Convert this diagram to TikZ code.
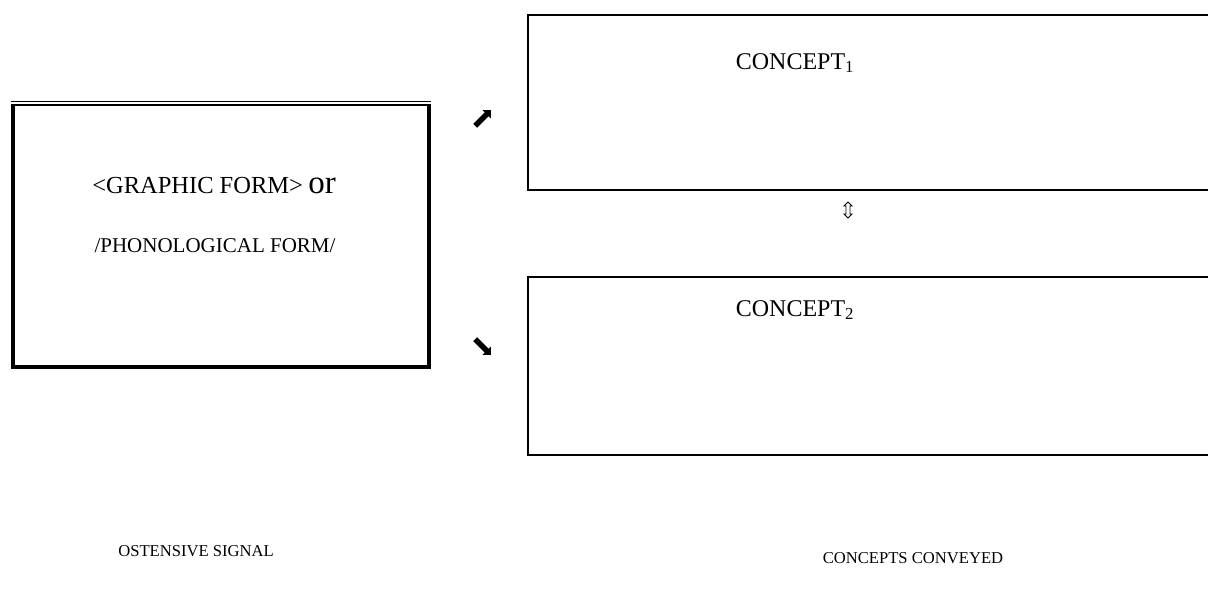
\documentclass[tikz,border=0pt]{standalone}
\usepackage{fontspec}
\setmainfont{Liberation Serif}
\usetikzlibrary{shapes.arrows}
\begin{document}
\begin{tikzpicture}
    [
    x=1pt,y=-1pt,
    txt/.style = {inner sep=0pt,font=\fontsize{21}{25}\selectfont},
    big/.style = {inner sep=0pt,font=\fontsize{24}{28}\selectfont},
    caption/.style = {inner sep=0pt,font=\fontsize{16.6}{19}\selectfont},
    pointer/.style = {single arrow,fill,black,inner sep=2.6pt,single arrow head extend=3pt,minimum height=22pt},
    twoway/.style = {double arrow,draw,black,line width=0.8pt,inner sep=1.6pt,double arrow head extend=2pt,minimum height=16pt,rotate=90}
    ]
\useasboundingbox (0,0) rectangle (1208,597);
% left box
\draw[line width=4pt] (13,104.5) |- (429,366.5) -- (429,104.5);
\draw[line width=2pt] (11,104.5) -- (431,104.5);
\draw[line width=1pt] (11,101.5) -- (431,101.5);
\node[txt] (form1) at (214,186) {{\fontsize{24.5}{28}\selectfont <GRAPHIC FORM>} {\fontsize{33}{36}\selectfont or}};
\node[txt] (form2) at (215,246) {/PHONOLOGICAL FORM/};
% right boxes, running off the page
\draw[line width=2pt] (1208,15) -| (528,190) -- (1208,190);
\draw[line width=2pt] (1208,277) -| (528,455) -- (1208,455);
\node[big] (c1) at (795,63) {CONCEPT\textsubscript{1}};
\node[big] (c2) at (795,310) {CONCEPT\textsubscript{2}};

\node[pointer,rotate=45] (up) at (482,119) {};
\node[pointer,rotate=-45] (down) at (482,346) {};
\node[twoway] (both) at (848,210) {};

\node[caption] (signal) at (196,551) {OSTENSIVE SIGNAL};
\node[caption] (conveyed) at (913,558) {CONCEPTS CONVEYED};
\end{tikzpicture}
\end{document}
